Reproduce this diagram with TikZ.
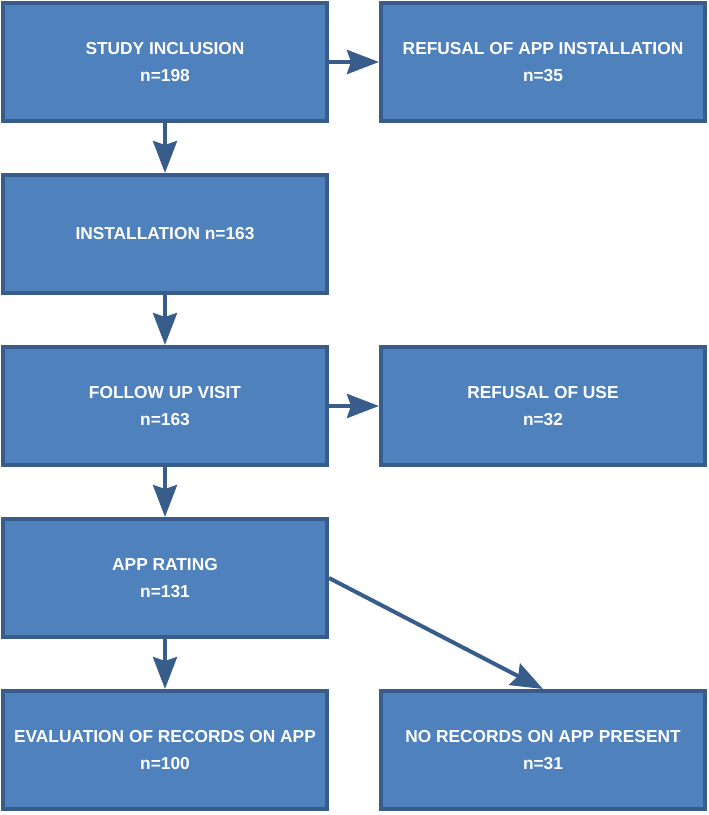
\documentclass[tikz,border=0pt]{standalone}
\usepackage{fontspec}
\setmainfont{Liberation Sans}
\usetikzlibrary{positioning,arrows.meta}

\definecolor{boxfill}{HTML}{4F81BD}
\definecolor{boxline}{HTML}{385D8A}

\begin{document}
\begin{tikzpicture}[
  every node/.style={font=\bfseries\fontsize{13}{20}\selectfont},
  box/.style={rectangle,draw=boxline,line width=3pt,fill=boxfill,text=white,minimum width=243pt,minimum height=88.5pt,align=center,inner sep=2pt},
  arr/.style={draw=boxline,line width=3pt,-{Stealth[length=24pt,width=18pt,inset=3pt]}}
]
\useasboundingbox (0,0) rectangle (531.75pt,-611.25pt);

\node[box] (incl) at (123.75pt,-46.5pt) {STUDY INCLUSION\\n=198};
\node[box, right=37.5pt of incl] (refapp) {REFUSAL OF APP INSTALLATION\\n=35};
\node[box, below=37.5pt of incl] (inst) {INSTALLATION n=163};
\node[box, below=37.5pt of inst] (visit) {FOLLOW UP VISIT\\n=163};
\node[box, right=37.5pt of visit] (refuse) {REFUSAL OF USE\\n=32};
\node[box, below=37.5pt of visit] (rating) {APP RATING\\n=131};
\node[box, below=37.5pt of rating] (eval) {EVALUATION OF RECORDS ON APP\\n=100};
\node[box, right=37.5pt of eval] (norec) {NO RECORDS ON APP PRESENT\\n=31};

\draw[arr] (incl) -- (refapp);
\draw[arr] (incl) -- (inst);
\draw[arr] (inst) -- (visit);
\draw[arr] (visit) -- (refuse);
\draw[arr] (visit) -- (rating);
\draw[arr] (rating) -- (eval);
\draw[arr] (rating.east) -- (norec.north);
\end{tikzpicture}
\end{document}
